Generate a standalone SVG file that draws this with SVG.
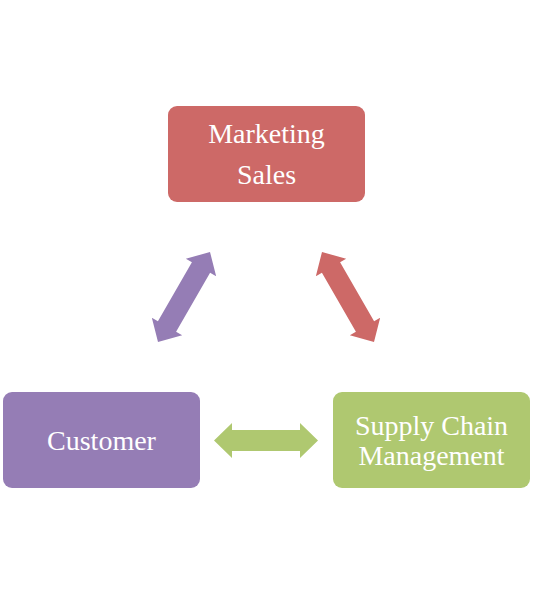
<svg xmlns="http://www.w3.org/2000/svg" width="533" height="594" viewBox="0 0 533 594">
<style>
.box{stroke:none}
.t{font-family:"Liberation Serif","Times New Roman",serif;font-size:28px;fill:#ffffff;text-anchor:middle}
</style>
<defs>
<polygon id="dbl" points="-52,0 -34,-17.5 -34,-10.5 34,-10.5 34,-17.5 52,0 34,17.5 34,10.5 -34,10.5 -34,17.5"/>
</defs>
<rect width="533" height="594" fill="#ffffff"/>
<g id="connectors">
<use href="#dbl" fill="#957db5" transform="translate(184,297) rotate(-60)"/>
<use href="#dbl" fill="#cd6967" transform="translate(348,297) rotate(60)"/>
<use href="#dbl" fill="#afc870" transform="translate(266,440.5)"/>
</g>
<g id="marketing">
<rect class="box" x="168" y="106" width="197" height="96" rx="9" fill="#cd6967"/>
<text class="t" x="266.5" y="143">Marketing</text>
<text class="t" x="266.5" y="184">Sales</text>
</g>
<g id="customer">
<rect class="box" x="3" y="392" width="197" height="96" rx="9" fill="#957db5"/>
<text class="t" x="101.5" y="450">Customer</text>
</g>
<g id="supply">
<rect class="box" x="333" y="392" width="197" height="96" rx="9" fill="#afc870"/>
<text class="t" x="431.5" y="435">Supply Chain</text>
<text class="t" x="431.5" y="465">Management</text>
</g>
</svg>
